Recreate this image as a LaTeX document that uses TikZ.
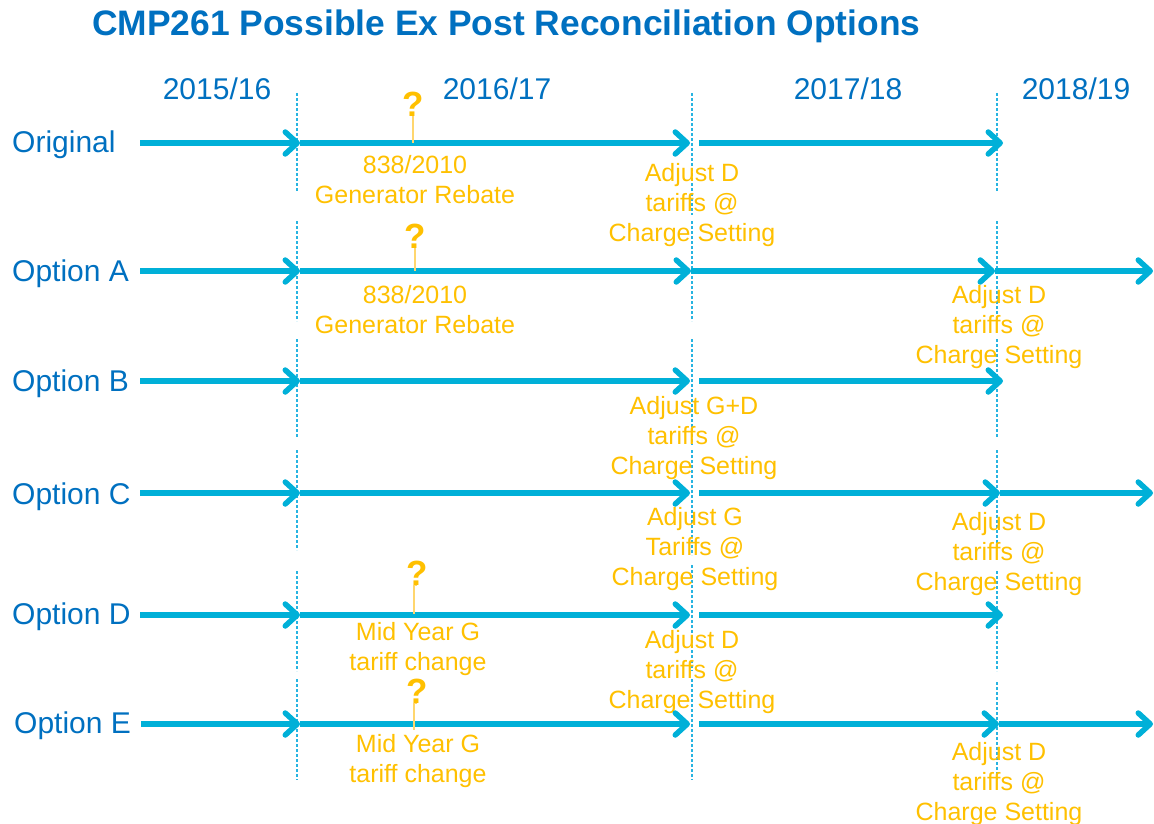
\documentclass[tikz,border=0pt]{standalone}
\usepackage{fontspec}
\setmainfont{Liberation Sans}
\usetikzlibrary{arrows.meta}
\definecolor{ngblue}{RGB}{0,112,192}
\definecolor{ngcyan}{RGB}{0,176,216}
\definecolor{ngdash}{RGB}{40,180,225}
\definecolor{ngyellow}{RGB}{255,192,0}
\definecolor{ngpale}{RGB}{255,214,110}

\tikzset{
  tl/.style={line width=5.5pt, ngcyan, -{Straight Barb[length=12pt, width=22pt, line cap=round, line join=round]}},
  yr/.style={ngdash, line width=1.3pt, dash pattern=on 3pt off 2pt},
  lbl/.style={ngblue, font=\fontsize{30}{36}\selectfont, inner sep=0},
  note/.style={ngyellow, align=center, font=\fontsize{25}{30}\selectfont, inner sep=0},
  qm/.style={ngyellow, font=\bfseries\fontsize{35}{40}\selectfont, inner sep=0},
  qline/.style={ngpale, line width=1.5pt}
}

\begin{document}
\begin{tikzpicture}[x=1pt, y=-1pt]
\useasboundingbox (0,0) rectangle (1154,824);

\node[ngblue, font=\bfseries\fontsize{35.4}{42}\selectfont, anchor=west, inner sep=0] (title) at (92,26) {CMP261 Possible Ex Post Reconciliation Options};

\node[lbl] (y1) at (217,89) {2015/16};
\node[lbl] (y2) at (497,89) {2016/17};
\node[lbl] (y3) at (848,89) {2017/18};
\node[lbl] (y4) at (1076,89) {2018/19};

% year boundaries
\draw[yr] (297,93) -- (297,192) (297,221) -- (297,321) (297,339) -- (297,438)
          (297,450) -- (297,550) (297,571) -- (297,671) (297,679) -- (297,780);
\draw[yr] (692,93) -- (692,215) (692,221) -- (692,321) (692,339) -- (692,445)
          (692,450) -- (692,555) (692,565) -- (692,671) (692,679) -- (692,780);
\draw[yr] (997,93) -- (997,192) (997,221) -- (997,321) (997,339) -- (997,438)
          (997,450) -- (997,550) (997,571) -- (997,671) (997,682) -- (997,780);

% Original
\node[lbl, anchor=west] (org) at (12,145) {Original};
\coordinate (o0) at (140,143);
\coordinate (o1) at (300,143);
\coordinate (o2) at (690,143);
\coordinate (o3) at (699,143);
\coordinate (o4) at (1003,143);
\draw[tl] (o0) -- (o1);
\draw[tl] (o1) -- (o2);
\draw[tl] (o3) -- (o4);
\node[qm] (oq) at (413,104) {?};
\coordinate (ot) at (413,143);
\draw[qline] (oq.south) -- (ot);
\node[note] (oreb) at (415,180) {838/2010\\Generator Rebate};
\node[note] (oadj) at (692,205) {Adjust D\\tariffs @\\Charge Setting};

% Option A
\node[lbl, anchor=west] (opa) at (12,274) {Option A};
\coordinate (a0) at (140,271);
\coordinate (a1) at (300,271);
\coordinate (a2) at (691,271);
\coordinate (a3) at (995,271);
\coordinate (a4) at (1153,271);
\draw[tl] (a0) -- (a1);
\draw[tl] (a1) -- (a2);
\draw[tl] (a2) -- (a3);
\draw[tl] (a3) -- (a4);
\node[qm] (aq) at (415,236) {?};
\coordinate (at) at (415,271);
\draw[qline] (aq.south) -- (at);
\node[note] (areb) at (415,310) {838/2010\\Generator Rebate};
\node[note] (aadj) at (999,327) {Adjust D\\tariffs @\\Charge Setting};

% Option B
\node[lbl, anchor=west] (opb) at (12,384) {Option B};
\coordinate (b0) at (140,381);
\coordinate (b1) at (300,381);
\coordinate (b2) at (690,381);
\coordinate (b3) at (699,381);
\coordinate (b4) at (1003,381);
\draw[tl] (b0) -- (b1);
\draw[tl] (b1) -- (b2);
\draw[tl] (b3) -- (b4);
\node[note] (badj) at (694,438) {Adjust G+D\\tariffs @\\Charge Setting};

% Option C
\node[lbl, anchor=west] (opc) at (12,497) {Option C};
\coordinate (c0) at (140,493);
\coordinate (c1) at (300,493);
\coordinate (c2) at (690,493);
\coordinate (c3) at (699,493);
\coordinate (c4) at (1000,493);
\coordinate (c5) at (1153,493);
\draw[tl] (c0) -- (c1);
\draw[tl] (c1) -- (c2);
\draw[tl] (c3) -- (c4);
\draw[tl] (c4) -- (c5);
\node[note] (cadjg) at (695,549) {Adjust G\\Tariffs @\\Charge Setting};
\node[note] (cadjd) at (999,554) {Adjust D\\tariffs @\\Charge Setting};

% Option D
\node[lbl, anchor=west] (opd) at (12,617) {Option D};
\coordinate (d0) at (140,615);
\coordinate (d1) at (300,615);
\coordinate (d2) at (690,615);
\coordinate (d3) at (699,615);
\coordinate (d4) at (1003,615);
\draw[tl] (d0) -- (d1);
\draw[tl] (d1) -- (d2);
\draw[tl] (d3) -- (d4);
\node[qm] (dq) at (417,573) {?};
\coordinate (dt) at (414,614);
\draw[qline] (dq.south) -| (dt);
\node[note] (dmid) at (418,649) {Mid Year G\\tariff change};
\node[note] (dadj) at (692,672) {Adjust D\\tariffs @\\Charge Setting};

% Option E
\node[lbl, anchor=west] (ope) at (14,726) {Option E};
\coordinate (e0) at (141,724);
\coordinate (e1) at (300,724);
\coordinate (e2) at (690,724);
\coordinate (e3) at (699,724);
\coordinate (e4) at (999,724);
\coordinate (e5) at (1153,724);
\draw[tl] (e0) -- (e1);
\draw[tl] (e1) -- (e2);
\draw[tl] (e3) -- (e4);
\draw[tl] (e4) -- (e5);
\node[qm] (eq) at (417,691) {?};
\coordinate (et) at (414,730);
\draw[qline] (eq.south) -| (et);
\node[note] (emid) at (418,761) {Mid Year G\\tariff change};
\node[note] (eadj) at (999,784) {Adjust D\\tariffs @\\Charge Setting};

\end{tikzpicture}
\end{document}
